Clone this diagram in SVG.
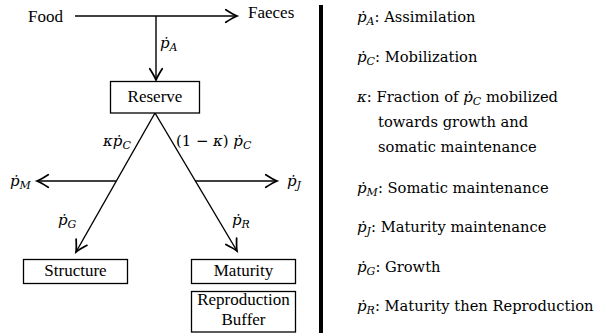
<svg xmlns="http://www.w3.org/2000/svg" width="594" height="333" viewBox="0 0 594 333">
<defs>
<marker id="arr" markerUnits="userSpaceOnUse" markerWidth="20" markerHeight="20" viewBox="-12 -8 14 16" refX="0" refY="0" orient="auto" overflow="visible">
<path d="M-9,-5 Q-3,-1.2 0,0 Q-3,1.2 -9,5" fill="none" stroke="#000" stroke-width="1.4" stroke-linecap="round"/>
</marker>
</defs>
<style>
text{font-family:"Liberation Serif","DejaVu Serif",serif;fill:#000}
.t{font-family:"Liberation Serif","DejaVu Serif",serif;font-size:17px}
.u{font-family:"DejaVu Serif","Liberation Serif",serif;font-size:14.8px;font-style:normal}
.m{font-family:"DejaVu Serif","Liberation Serif",serif;font-size:15px;font-style:italic}
.s{font-family:"DejaVu Serif","Liberation Serif",serif;font-size:11px;font-style:italic}
.l{font-family:"DejaVu Serif","Liberation Serif",serif;font-size:14.7px;font-style:normal}
.box{fill:#fff;stroke:#000;stroke-width:1.3}
.ln{fill:none;stroke:#000;stroke-width:1.4}
</style>
<rect width="594" height="333" fill="#fff"/>
<g id="connectors">
<line class="ln" x1="75" y1="16" x2="237" y2="16" marker-end="url(#arr)"/>
<line class="ln" x1="156" y1="16" x2="156" y2="80" marker-end="url(#arr)"/>
<line class="ln" x1="155" y1="113" x2="76" y2="252" marker-end="url(#arr)"/>
<line class="ln" x1="155" y1="113" x2="237" y2="251" marker-end="url(#arr)"/>
<line class="ln" x1="116" y1="181" x2="37" y2="181" marker-end="url(#arr)"/>
<line class="ln" x1="195" y1="181" x2="277" y2="181" marker-end="url(#arr)"/>
<text x="160" y="48"><tspan class="m">ṗ</tspan><tspan class="s" dy="3">A</tspan></text>
<text x="103" y="146"><tspan class="m">κṗ</tspan><tspan class="s" dy="3">C</tspan></text>
<text x="176" y="146"><tspan class="u">(1 − </tspan><tspan class="m">κ</tspan><tspan class="u">) </tspan><tspan class="m">ṗ</tspan><tspan class="s" dy="3">C</tspan></text>
<text x="10" y="186"><tspan class="m">ṗ</tspan><tspan class="s" dy="3">M</tspan></text>
<text x="287" y="186"><tspan class="m">ṗ</tspan><tspan class="s" dy="3">J</tspan></text>
<text x="58" y="225"><tspan class="m">ṗ</tspan><tspan class="s" dy="3">G</tspan></text>
<text x="232" y="225"><tspan class="m">ṗ</tspan><tspan class="s" dy="3">R</tspan></text>
</g>
<g id="food"><text class="t" x="28" y="22">Food</text></g>
<g id="faeces"><text class="t" x="248" y="18">Faeces</text></g>
<g id="reserve">
<rect class="box" x="110.5" y="81.5" width="89" height="31.5"/>
<text class="t" x="155" y="102" text-anchor="middle">Reserve</text>
</g>
<g id="structure">
<rect class="box" x="23.5" y="259.5" width="104" height="24"/>
<text class="t" x="75.5" y="276" text-anchor="middle">Structure</text>
</g>
<g id="maturity">
<rect class="box" x="191.5" y="259.5" width="104" height="24"/>
<text class="t" x="243.5" y="276" text-anchor="middle">Maturity</text>
</g>
<g id="reproduction-buffer">
<rect class="box" x="191.5" y="291.5" width="104" height="40.5"/>
<text class="t" x="243.5" y="305" text-anchor="middle">Reproduction</text>
<text class="t" x="243.5" y="325" text-anchor="middle">Buffer</text>
</g>
<rect x="319" y="5" width="4" height="328" fill="#000"/>
<g id="legend">
<text x="357" y="22"><tspan class="m">ṗ</tspan><tspan class="s" dy="3">A</tspan><tspan class="l" dy="-3">: Assimilation</tspan></text>
<text x="357" y="62"><tspan class="m">ṗ</tspan><tspan class="s" dy="3">C</tspan><tspan class="l" dy="-3">: Mobilization</tspan></text>
<text x="357" y="102"><tspan class="m">κ</tspan><tspan class="l">: Fraction of </tspan><tspan class="m">ṗ</tspan><tspan class="s" dy="3">C</tspan><tspan class="l" dy="-3"> mobilized</tspan></text>
<text class="l" x="378" y="127">towards growth and</text>
<text class="l" x="378" y="152">somatic maintenance</text>
<text x="357" y="193"><tspan class="m">ṗ</tspan><tspan class="s" dy="3">M</tspan><tspan class="l" dy="-3">: Somatic maintenance</tspan></text>
<text x="357" y="232"><tspan class="m">ṗ</tspan><tspan class="s" dy="3">J</tspan><tspan class="l" dy="-3">: Maturity maintenance</tspan></text>
<text x="357" y="272"><tspan class="m">ṗ</tspan><tspan class="s" dy="3">G</tspan><tspan class="l" dy="-3">: Growth</tspan></text>
<text x="357" y="311"><tspan class="m">ṗ</tspan><tspan class="s" dy="3">R</tspan><tspan class="l" dy="-3">: Maturity then Reproduction</tspan></text>
</g>
</svg>
